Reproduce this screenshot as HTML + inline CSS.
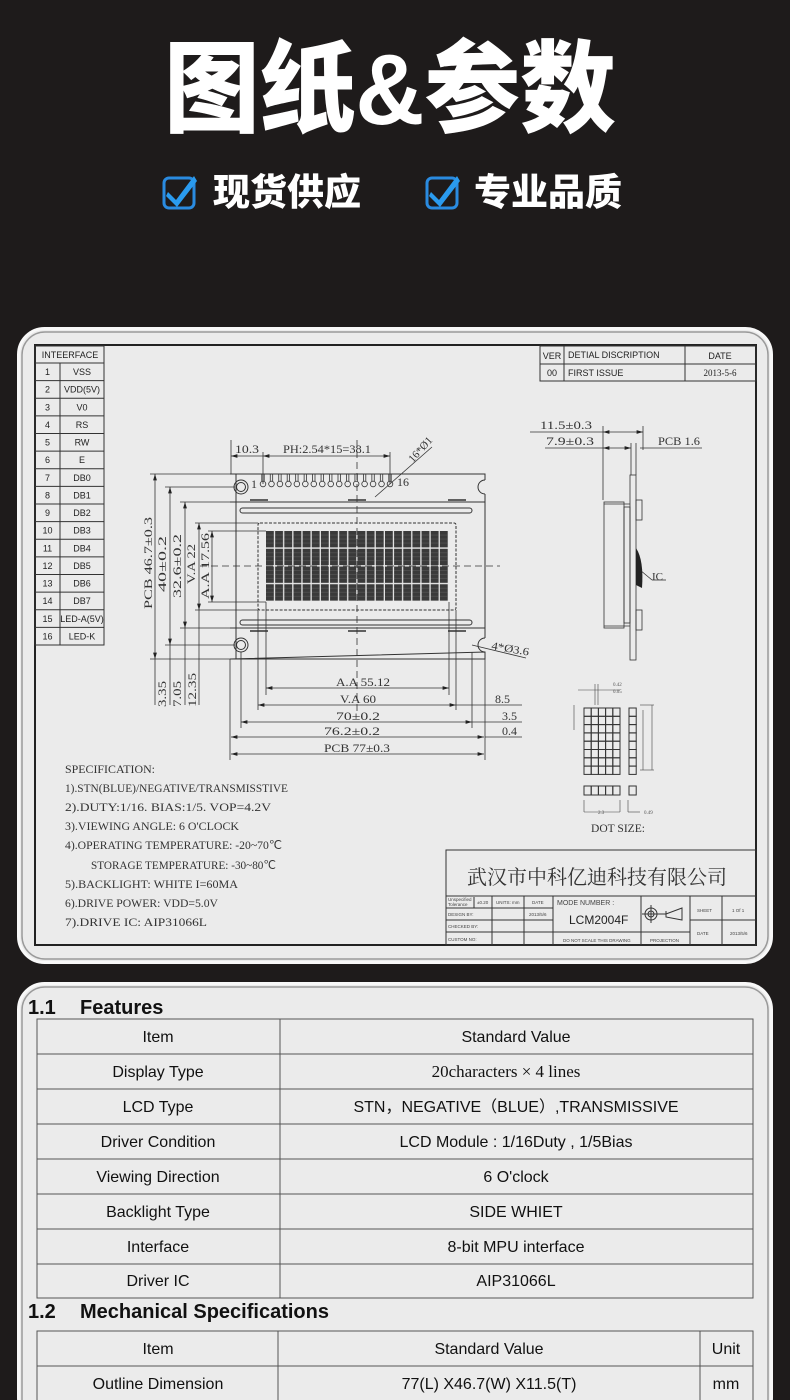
<!DOCTYPE html>
<html><head><meta charset="utf-8"><style>
html,body{margin:0;padding:0;background:#1e1b1b;}
svg{display:block}
</style></head><body>
<svg width="790" height="1400" viewBox="0 0 790 1400" xmlns="http://www.w3.org/2000/svg">
<defs>
<pattern id="chr" x="266" y="531" width="9.15" height="17.75" patternUnits="userSpaceOnUse">
<rect x="0" y="0" width="7.9" height="16.4" fill="#3a3a3a"/>
<line x1="0" y1="4" x2="7.9" y2="4" stroke="#666" stroke-width="0.4"/>
<line x1="0" y1="8" x2="7.9" y2="8" stroke="#666" stroke-width="0.4"/>
<line x1="0" y1="12" x2="7.9" y2="12" stroke="#666" stroke-width="0.4"/>
</pattern>
<marker id="ar" viewBox="0 0 10 6" refX="10" refY="3" markerWidth="8" markerHeight="5" orient="auto-start-reverse"><path d="M0,0 L10,3 L0,6z" fill="#222"/></marker>
</defs>
<rect width="790" height="1400" fill="#1e1b1b"/>
<text x="390" y="124" text-anchor="middle" font-family="'Liberation Sans','Noto Sans CJK SC',sans-serif" font-weight="900" font-size="100" fill="#fff" textLength="452" lengthAdjust="spacingAndGlyphs">图纸&amp;参数</text>
<g>
<rect x="164" y="178" width="30" height="30" rx="5" fill="none" stroke="#2a8be0" stroke-width="3"/>
<path d="M168,192 L176,200 L194,176 L197,181 L177,207 L166,196z" fill="#2a9bef"/>
<text x="213" y="205" font-family="'Noto Sans CJK SC',sans-serif" font-weight="900" font-size="37" fill="#fff">现货供应</text>
<rect x="427" y="178" width="30" height="30" rx="5" fill="none" stroke="#2a8be0" stroke-width="3"/>
<path d="M431,192 L439,200 L457,176 L460,181 L440,207 L429,196z" fill="#2a9bef"/>
<text x="474" y="205" font-family="'Noto Sans CJK SC',sans-serif" font-weight="900" font-size="37" fill="#fff">专业品质</text>
</g>
<rect x="18.5" y="328.5" width="753" height="634" rx="26" fill="#ebebeb" stroke="#f8f8f8" stroke-width="3"/>
<rect x="22" y="332" width="746" height="627" rx="23" fill="none" stroke="#9a9a9a" stroke-width="1.5"/>
<rect x="35" y="345" width="721" height="600" fill="none" stroke="#222" stroke-width="2"/>
<g font-family="'Liberation Sans',sans-serif" font-size="9" fill="#222" stroke="none">
<rect x="35" y="346" width="69" height="299" fill="none" stroke="#333" stroke-width="1"/>
<line x1="35" y1="363" x2="104" y2="363" stroke="#333"/>
<line x1="60" y1="363" x2="60" y2="645" stroke="#333"/>
<text x="70" y="358" text-anchor="middle">INTEERFACE</text>
</g>
<g id="iface" font-family="'Liberation Sans',sans-serif" font-size="9" fill="#222" text-anchor="middle"></g>
<g font-family="'Liberation Sans',sans-serif" font-size="9" fill="#222">
<rect x="540" y="346" width="216" height="35" fill="none" stroke="#333"/>
<line x1="540" y1="364" x2="756" y2="364" stroke="#333"/>
<line x1="564" y1="346" x2="564" y2="381" stroke="#333"/>
<line x1="685" y1="346" x2="685" y2="381" stroke="#333"/>
<text x="552" y="359" text-anchor="middle">VER</text>
<text x="568" y="358">DETIAL DISCRIPTION</text>
<text x="720" y="359" text-anchor="middle">DATE</text>
<text x="552" y="376" text-anchor="middle">00</text>
<text x="568" y="376">FIRST ISSUE</text>
<text x="720" y="376" text-anchor="middle" font-family="'Liberation Serif',serif">2013-5-6</text>
</g>
<g fill="none" stroke="#333" stroke-width="1">
<path d="M230,474 H485 V480 M485,494 V638 M485,652 V659 H230 Z"/>
<path d="M485,480 a7,7 0 0 0 0,14" />
<path d="M485,638 a7,7 0 0 0 0,14" />
<line x1="230" y1="502" x2="485" y2="502"/>
<line x1="230" y1="628" x2="485" y2="628"/>
<line x1="236" y1="474" x2="236" y2="659"/>
<circle cx="241" cy="487" r="7"/><circle cx="241" cy="487" r="4.5"/>
<circle cx="241" cy="645" r="7"/><circle cx="241" cy="645" r="4.5"/>
<rect x="240" y="508" width="232" height="5" rx="2.5"/>
<rect x="240" y="620" width="232" height="5" rx="2.5"/>
<rect x="258" y="523" width="198" height="87" rx="2" stroke-dasharray="3,1.5"/>
</g>
<rect x="266" y="531" width="183" height="71" fill="url(#chr)"/>
<g id="pins" fill="none" stroke="#333" stroke-width="0.8"></g>
<g stroke="#333" stroke-width="0.8" stroke-dasharray="7,4" fill="none">
<line x1="357" y1="440" x2="357" y2="712"/>
<line x1="200" y1="566" x2="500" y2="566"/>
</g>
<g stroke="#333" stroke-width="1.5"><line x1="250" y1="500" x2="268" y2="500"/><line x1="348" y1="500" x2="366" y2="500"/><line x1="448" y1="500" x2="466" y2="500"/><line x1="250" y1="631" x2="268" y2="631"/><line x1="348" y1="631" x2="366" y2="631"/><line x1="448" y1="631" x2="466" y2="631"/></g>
<g stroke="#333" stroke-width="0.8" fill="none">
<line x1="150" y1="474" x2="230" y2="474"/><line x1="150" y1="659" x2="230" y2="659"/>
<line x1="165" y1="487" x2="235" y2="487"/><line x1="165" y1="645" x2="235" y2="645"/>
<line x1="180" y1="502" x2="230" y2="502"/><line x1="180" y1="628" x2="230" y2="628"/>
<line x1="195" y1="523" x2="258" y2="523"/><line x1="195" y1="610" x2="258" y2="610"/>
<line x1="208" y1="531" x2="266" y2="531"/><line x1="208" y1="602" x2="266" y2="602"/>
<line x1="155" y1="474" x2="155" y2="659" marker-start="url(#ar)" marker-end="url(#ar)"/>
<line x1="170" y1="487" x2="170" y2="645" marker-start="url(#ar)" marker-end="url(#ar)"/>
<line x1="185" y1="502" x2="185" y2="628" marker-start="url(#ar)" marker-end="url(#ar)"/>
<line x1="199" y1="523" x2="199" y2="610" marker-start="url(#ar)" marker-end="url(#ar)"/>
<line x1="212" y1="531" x2="212" y2="602" marker-start="url(#ar)" marker-end="url(#ar)"/>
<line x1="170" y1="645" x2="170" y2="705"/><line x1="185" y1="628" x2="185" y2="705"/><line x1="199" y1="610" x2="199" y2="705"/><line x1="155" y1="659" x2="155" y2="705"/>
<line x1="230" y1="659" x2="230" y2="760"/><line x1="485" y1="659" x2="485" y2="760"/>
<line x1="241" y1="652" x2="241" y2="728"/><line x1="472" y1="652" x2="472" y2="728"/>
<line x1="258" y1="610" x2="258" y2="710"/><line x1="456" y1="610" x2="456" y2="710"/>
<line x1="266" y1="602" x2="266" y2="695"/><line x1="449" y1="602" x2="449" y2="695"/>
<line x1="266" y1="688" x2="449" y2="688" marker-start="url(#ar)" marker-end="url(#ar)"/>
<line x1="258" y1="705" x2="456" y2="705" marker-start="url(#ar)" marker-end="url(#ar)"/>
<line x1="241" y1="722" x2="472" y2="722" marker-start="url(#ar)" marker-end="url(#ar)"/>
<line x1="231" y1="737" x2="484" y2="737" marker-start="url(#ar)" marker-end="url(#ar)"/>
<line x1="231" y1="754" x2="484" y2="754" marker-start="url(#ar)" marker-end="url(#ar)"/>
<line x1="456" y1="705" x2="522" y2="705"/><line x1="472" y1="722" x2="522" y2="722"/><line x1="485" y1="737" x2="522" y2="737"/>
<line x1="231" y1="440" x2="231" y2="474"/><line x1="263" y1="452" x2="263" y2="484"/><line x1="390" y1="452" x2="390" y2="484"/>
<line x1="231" y1="456" x2="263" y2="456" marker-start="url(#ar)"/>
<line x1="263" y1="456" x2="390" y2="456" marker-start="url(#ar)" marker-end="url(#ar)"/>
<line x1="375" y1="497" x2="432" y2="447"/>
<line x1="472" y1="645" x2="526" y2="658"/>
</g>
<g font-family="'Liberation Serif',serif" font-size="12" fill="#333">
<text x="235" y="453" textLength="24" lengthAdjust="spacingAndGlyphs">10.3</text>
<text x="283" y="453" textLength="88" lengthAdjust="spacingAndGlyphs">PH:2.54*15=38.1</text>
<text x="0" y="0" transform="translate(413,463) rotate(-48)" font-size="11" textLength="30" lengthAdjust="spacingAndGlyphs">16*Ø1</text>
<text x="251" y="488" font-size="12">1</text>
<text x="397" y="486" font-size="12">16</text>
<text x="0" y="0" transform="translate(491,649) rotate(10)" font-size="11" textLength="38" lengthAdjust="spacingAndGlyphs">4*Ø3.6</text>
<text transform="translate(152,609) rotate(-90)" textLength="92" lengthAdjust="spacingAndGlyphs">PCB 46.7±0.3</text>
<text transform="translate(166,592) rotate(-90)" textLength="56" lengthAdjust="spacingAndGlyphs">40±0.2</text>
<text transform="translate(181,598) rotate(-90)" textLength="64" lengthAdjust="spacingAndGlyphs">32.6±0.2</text>
<text transform="translate(195,584) rotate(-90)" textLength="40" lengthAdjust="spacingAndGlyphs">V.A 22</text>
<text transform="translate(209,599) rotate(-90)" textLength="66" lengthAdjust="spacingAndGlyphs">A.A 17.56</text>
<text transform="translate(166,707) rotate(-90)" textLength="26" lengthAdjust="spacingAndGlyphs">3.35</text>
<text transform="translate(181,707) rotate(-90)" textLength="26" lengthAdjust="spacingAndGlyphs">7.05</text>
<text transform="translate(196,707) rotate(-90)" textLength="34" lengthAdjust="spacingAndGlyphs">12.35</text>
<text x="336" y="686" textLength="54" lengthAdjust="spacingAndGlyphs">A.A 55.12</text>
<text x="340" y="703" textLength="36" lengthAdjust="spacingAndGlyphs">V.A 60</text>
<text x="336" y="720" textLength="44" lengthAdjust="spacingAndGlyphs">70±0.2</text>
<text x="324" y="735" textLength="56" lengthAdjust="spacingAndGlyphs">76.2±0.2</text>
<text x="324" y="752" textLength="66" lengthAdjust="spacingAndGlyphs">PCB 77±0.3</text>
<text x="495" y="703">8.5</text>
<text x="502" y="720">3.5</text>
<text x="502" y="735">0.4</text>
</g>
<g stroke="#333" stroke-width="0.8" fill="none">
<line x1="530" y1="432" x2="603" y2="432"/>
<line x1="545" y1="448" x2="603" y2="448"/>
<line x1="640" y1="448" x2="702" y2="448"/>
<line x1="603" y1="426" x2="603" y2="500"/>
<line x1="643" y1="426" x2="643" y2="450"/>
<line x1="603" y1="432" x2="643" y2="432" marker-start="url(#ar)" marker-end="url(#ar)"/>
<line x1="603" y1="448" x2="631" y2="448" marker-start="url(#ar)" marker-end="url(#ar)"/>
<line x1="631" y1="443" x2="631" y2="475"/><line x1="636" y1="443" x2="636" y2="475"/>
<rect x="630" y="475" width="6" height="185"/>
<rect x="604" y="502" width="20" height="126"/>
<rect x="624" y="507" width="6" height="116"/>
<rect x="636" y="500" width="6" height="20"/>
<rect x="636" y="610" width="6" height="20"/>
<line x1="604" y1="504" x2="630" y2="504"/><line x1="604" y1="626" x2="630" y2="626"/>
<line x1="640" y1="570" x2="652" y2="580"/><line x1="652" y1="580" x2="666" y2="580"/>
</g>
<path d="M636,548 Q644,560 642,588 L636,585z" fill="#222"/>
<g font-family="'Liberation Serif',serif" font-size="12" fill="#333">
<text x="540" y="429" textLength="52" lengthAdjust="spacingAndGlyphs">11.5±0.3</text>
<text x="546" y="445" textLength="48" lengthAdjust="spacingAndGlyphs">7.9±0.3</text>
<text x="658" y="445" textLength="42" lengthAdjust="spacingAndGlyphs">PCB 1.6</text>
<text x="652" y="580" font-size="11">IC</text>
</g>
<g id="dots" fill="none" stroke="#333" stroke-width="1"></g>
<g stroke="#444" stroke-width="0.6" fill="none">
<line x1="578" y1="690" x2="620" y2="690"/><line x1="595" y1="684" x2="595" y2="705"/><line x1="598" y1="684" x2="598" y2="705"/>
<line x1="574" y1="705" x2="574" y2="730"/><line x1="640" y1="705" x2="654" y2="705"/><line x1="640" y1="770" x2="654" y2="770"/><line x1="652" y1="705" x2="652" y2="770"/><line x1="643" y1="770" x2="643" y2="710"/>
<line x1="584" y1="800" x2="584" y2="812"/><line x1="620" y1="800" x2="620" y2="812"/><line x1="584" y1="812" x2="620" y2="812"/>
<line x1="628" y1="800" x2="628" y2="812"/><line x1="628" y1="812" x2="640" y2="812"/>
</g>
<g font-family="'Liberation Serif',serif" font-size="5" fill="#555"><text x="613" y="686">0.42</text><text x="613" y="693">0.05</text><text x="598" y="814">2.3</text><text x="644" y="814">0.49</text></g>
<text x="591" y="832" font-family="'Liberation Serif',serif" font-size="12" fill="#333" textLength="54" lengthAdjust="spacingAndGlyphs">DOT SIZE:</text>
<g font-family="'Liberation Serif',serif" font-size="12" fill="#333">
<text x="65" y="773" textLength="90" lengthAdjust="spacingAndGlyphs">SPECIFICATION:</text>
<text x="65" y="792" textLength="223" lengthAdjust="spacingAndGlyphs">1).STN(BLUE)/NEGATIVE/TRANSMISSTIVE</text>
<text x="65" y="811" textLength="206" lengthAdjust="spacingAndGlyphs">2).DUTY:1/16. BIAS:1/5. VOP=4.2V</text>
<text x="65" y="830" textLength="174" lengthAdjust="spacingAndGlyphs">3).VIEWING ANGLE: 6 O'CLOCK</text>
<text x="65" y="849" textLength="217" lengthAdjust="spacingAndGlyphs">4).OPERATING TEMPERATURE: -20~70℃</text>
<text x="91" y="869" textLength="185" lengthAdjust="spacingAndGlyphs">STORAGE TEMPERATURE: -30~80℃</text>
<text x="65" y="888" textLength="173" lengthAdjust="spacingAndGlyphs">5).BACKLIGHT: WHITE  I=60MA</text>
<text x="65" y="907" textLength="153" lengthAdjust="spacingAndGlyphs">6).DRIVE POWER: VDD=5.0V</text>
<text x="65" y="926" textLength="142" lengthAdjust="spacingAndGlyphs">7).DRIVE IC: AIP31066L</text>
</g>
<g stroke="#333" stroke-width="1" fill="none">
<rect x="446" y="850" width="310" height="95"/>
<line x1="446" y1="896" x2="756" y2="896"/>
<line x1="446" y1="908" x2="553" y2="908"/><line x1="446" y1="920" x2="553" y2="920"/><line x1="446" y1="932" x2="553" y2="932"/>
<line x1="492" y1="896" x2="492" y2="945"/><line x1="524" y1="896" x2="524" y2="945"/><line x1="553" y1="896" x2="553" y2="945"/>
<line x1="641" y1="896" x2="641" y2="945"/><line x1="690" y1="896" x2="690" y2="945"/><line x1="722" y1="896" x2="722" y2="945"/>
<line x1="553" y1="932" x2="690" y2="932"/><line x1="690" y1="920" x2="756" y2="920"/>
<line x1="474" y1="897" x2="474" y2="908"/>
<circle cx="651" cy="914" r="6"/><circle cx="651" cy="914" r="3"/><line x1="642" y1="914" x2="660" y2="914"/><line x1="651" y1="905" x2="651" y2="923"/>
<path d="M660,914 H666 L682,908 V920 L666,917 V911"/>
</g>
<g font-family="'Liberation Sans',sans-serif" font-size="4.5" fill="#444">
<text x="448" y="901">Unspecified</text><text x="448" y="906">Tolerance</text><text x="477" y="904">±0.20</text>
<text x="496" y="904">UNITS: mm</text><text x="532" y="904">DATE</text>
<text x="448" y="916">DESIGN   BY:</text><text x="529" y="916">2013/5/6</text>
<text x="448" y="928">CHECKED  BY:</text><text x="448" y="941">CUSTOM NO:</text>
<text x="563" y="942">DO NOT SCALE THIS DRAWING</text><text x="650" y="942">PROJECTION</text>
<text x="697" y="912">SHEET</text><text x="732" y="912">1 Of 1</text>
<text x="697" y="935">DATE</text><text x="730" y="935">2013/5/6</text>
<text x="557" y="905" font-size="7">MODE NUMBER :</text>
</g>
<text x="569" y="924" font-family="'Liberation Sans',sans-serif" font-size="12" fill="#222">LCM2004F</text>
<text x="597" y="884" text-anchor="middle" font-family="'Noto Serif CJK SC',serif" font-size="20" fill="#333">武汉市中科亿迪科技有限公司</text>
<rect x="18.5" y="983.5" width="753" height="440" rx="26" fill="#ebebeb" stroke="#f8f8f8" stroke-width="3"/>
<rect x="22" y="987" width="746" height="440" rx="23" fill="none" stroke="#9a9a9a" stroke-width="1.5"/>
<g font-family="'Liberation Sans',sans-serif" font-weight="bold" font-size="20" fill="#111">
<text x="28" y="1014">1.1</text><text x="80" y="1014">Features</text>
<text x="28" y="1318">1.2</text><text x="80" y="1318">Mechanical Specifications</text>
</g>
<g stroke="#555" stroke-width="1" fill="none">
<rect x="37" y="1019" width="716" height="279"/>
<line x1="280" y1="1019" x2="280" y2="1298"/>
<line x1="37" y1="1054" x2="753" y2="1054"/><line x1="37" y1="1089" x2="753" y2="1089"/><line x1="37" y1="1124" x2="753" y2="1124"/><line x1="37" y1="1159" x2="753" y2="1159"/><line x1="37" y1="1194" x2="753" y2="1194"/><line x1="37" y1="1229" x2="753" y2="1229"/><line x1="37" y1="1264" x2="753" y2="1264"/>
<rect x="37" y="1331" width="716" height="80"/>
<line x1="37" y1="1366" x2="753" y2="1366"/><line x1="278" y1="1331" x2="278" y2="1411"/><line x1="700" y1="1331" x2="700" y2="1411"/>
</g>
<g font-family="'Liberation Sans',sans-serif" font-size="16" fill="#111" text-anchor="middle">
<text x="158" y="1042">Item</text><text x="516" y="1042">Standard Value</text>
<text x="158" y="1077">Display Type</text><text x="506" y="1077" font-family="'Liberation Serif',serif" font-size="17">20characters × 4 lines</text>
<text x="158" y="1112">LCD Type</text><text x="516" y="1112">STN，NEGATIVE（BLUE）,TRANSMISSIVE</text>
<text x="158" y="1147">Driver Condition</text><text x="516" y="1147">LCD Module : 1/16Duty , 1/5Bias</text>
<text x="158" y="1182">Viewing Direction</text><text x="516" y="1182">6 O'clock</text>
<text x="158" y="1217">Backlight Type</text><text x="516" y="1217">SIDE WHIET</text>
<text x="158" y="1252">Interface</text><text x="516" y="1252">8-bit MPU interface</text>
<text x="158" y="1286">Driver IC</text><text x="516" y="1286">AIP31066L</text>
<text x="158" y="1354">Item</text><text x="489" y="1354">Standard Value</text><text x="726" y="1354">Unit</text>
<text x="158" y="1389">Outline Dimension</text><text x="489" y="1389">77(L) X46.7(W) X11.5(T)</text><text x="726" y="1389">mm</text>
</g>
<script>
(function(){
var NS="http://www.w3.org/2000/svg";
function el(p,t,a,txt){var e=document.createElementNS(NS,t);for(var k in a)e.setAttribute(k,a[k]);if(txt)e.textContent=txt;p.appendChild(e);return e;}
var names=["VSS","VDD(5V)","V0","RS","RW","E","DB0","DB1","DB2","DB3","DB4","DB5","DB6","DB7","LED-A(5V)","LED-K"];
var g=document.getElementById("iface");
for(var i=0;i<16;i++){var y=363+i*17.625;
 el(g,"line",{x1:35,y1:y+17.625,x2:104,y2:y+17.625,stroke:"#333","stroke-width":1});
 el(g,"text",{x:47.5,y:y+12},String(i+1));
 el(g,"text",{x:82,y:y+12},names[i]);}
var p=document.getElementById("pins");
for(var i=0;i<16;i++){var x=263+i*(127/15);
 el(p,"circle",{cx:x,cy:484,r:2.8});
 el(p,"line",{x1:x-1.2,y1:474,x2:x-1.2,y2:481});el(p,"line",{x1:x+1.2,y1:474,x2:x+1.2,y2:481});}
var d=document.getElementById("dots");
for(var r=0;r<8;r++){for(var c=0;c<5;c++)el(d,"rect",{x:584+c*7.2,y:708+r*8.3,width:7.2,height:8.3});
 el(d,"rect",{x:629,y:708+r*8.3,width:7.2,height:8.3});}
for(var c=0;c<5;c++)el(d,"rect",{x:584+c*7.2,y:786,width:7.2,height:9});
el(d,"rect",{x:629,y:786,width:7.2,height:9});
})();
</script>
</svg>
</body></html>
